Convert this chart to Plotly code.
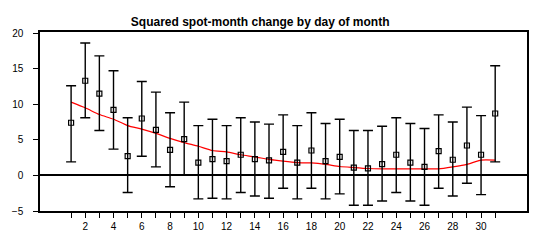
import plotly.graph_objects as go

days = list(range(1, 32))
means = [7.4, 13.3, 11.5, 9.2, 2.7, 8.0, 6.4, 3.6, 5.1, 1.8,
         2.3, 2.0, 2.9, 2.3, 2.1, 3.3, 1.8, 3.5, 2.0, 2.6,
         1.1, 1.0, 1.6, 2.9, 1.8, 1.2, 3.4, 2.2, 4.2, 2.9, 8.7]
upper = [12.6, 18.6, 16.8, 14.7, 8.1, 13.2, 11.7, 8.8, 10.3, 7.0,
         7.9, 7.0, 8.1, 7.5, 7.2, 8.5, 7.0, 8.8, 7.3, 7.9,
         6.3, 6.3, 6.9, 8.1, 7.3, 6.6, 8.5, 7.5, 9.6, 8.4, 15.4]
lower = [1.9, 8.1, 6.3, 3.7, -2.4, 2.7, 1.2, -1.6, 0.0, -3.3,
         -3.2, -3.3, -2.4, -2.9, -3.2, -1.8, -3.3, -1.8, -3.3, -2.6,
         -4.2, -4.2, -3.6, -2.4, -3.6, -4.2, -1.8, -2.9, -1.1, -2.7, 1.9]
smooth = [10.3, 9.5, 8.55, 7.9, 7.0, 6.5, 5.9, 5.2, 4.6, 4.1,
          3.5, 3.3, 2.9, 2.6, 2.25, 2.0, 1.8, 1.75, 1.55, 1.25,
          1.1, 0.97, 0.92, 0.92, 0.92, 0.92, 0.92, 1.2, 1.55, 2.15, 2.15]
x_tick_labels = [str(d) if d % 2 == 0 else "" for d in days]
y_ticks = [-5, 0, 5, 10, 15, 20]

err_plus = [u - m for u, m in zip(upper, means)]
err_minus = [m - l for m, l in zip(means, lower)]

fig = go.Figure()
fig.add_trace(go.Scatter(
    x=days, y=smooth, mode="lines",
    line=dict(color="#ff0000", width=1.2, shape="spline", smoothing=0.6),
    hoverinfo="skip", showlegend=False,
))
fig.add_trace(go.Scatter(
    x=days, y=means, mode="markers",
    marker=dict(symbol="square-open", size=5, color="black",
                line=dict(color="black", width=1.2)),
    error_y=dict(type="data", symmetric=False, array=err_plus,
                 arrayminus=err_minus, color="black", thickness=1.4, width=5),
    showlegend=False,
))

fig.update_layout(
    width=542, height=244,
    margin=dict(l=40, r=15, t=32, b=31),
    paper_bgcolor="white", plot_bgcolor="white",
    font=dict(family="Arial", size=10, color="black"),
    title=dict(text="<b>Squared spot-month change by day of month</b>",
               x=0.48, xref="container", xanchor="center",
               y=1 - 22 / 244, yref="container", yanchor="middle",
               font=dict(family="Arial", size=12, color="black")),
)
fig.update_xaxes(
    range=[-1.2, 33.25], tickmode="array", tickvals=days, ticktext=x_tick_labels,
    ticks="outside", ticklen=5, tickwidth=1.4, tickcolor="black",
    showgrid=False, zeroline=False,
    showline=True, linecolor="black", linewidth=1.5, mirror=True,
    tickfont=dict(size=10),
)
fig.update_yaxes(
    range=[-5, 20.15], tickmode="array", tickvals=y_ticks,
    ticks="outside", ticklen=5, tickwidth=1.4, tickcolor="black",
    ticklabelstandoff=8,
    showgrid=False, zeroline=True, zerolinecolor="black", zerolinewidth=1.5,
    showline=True, linecolor="black", linewidth=1.5, mirror=True,
    tickfont=dict(size=10),
)

fig.write_html("out.html")
